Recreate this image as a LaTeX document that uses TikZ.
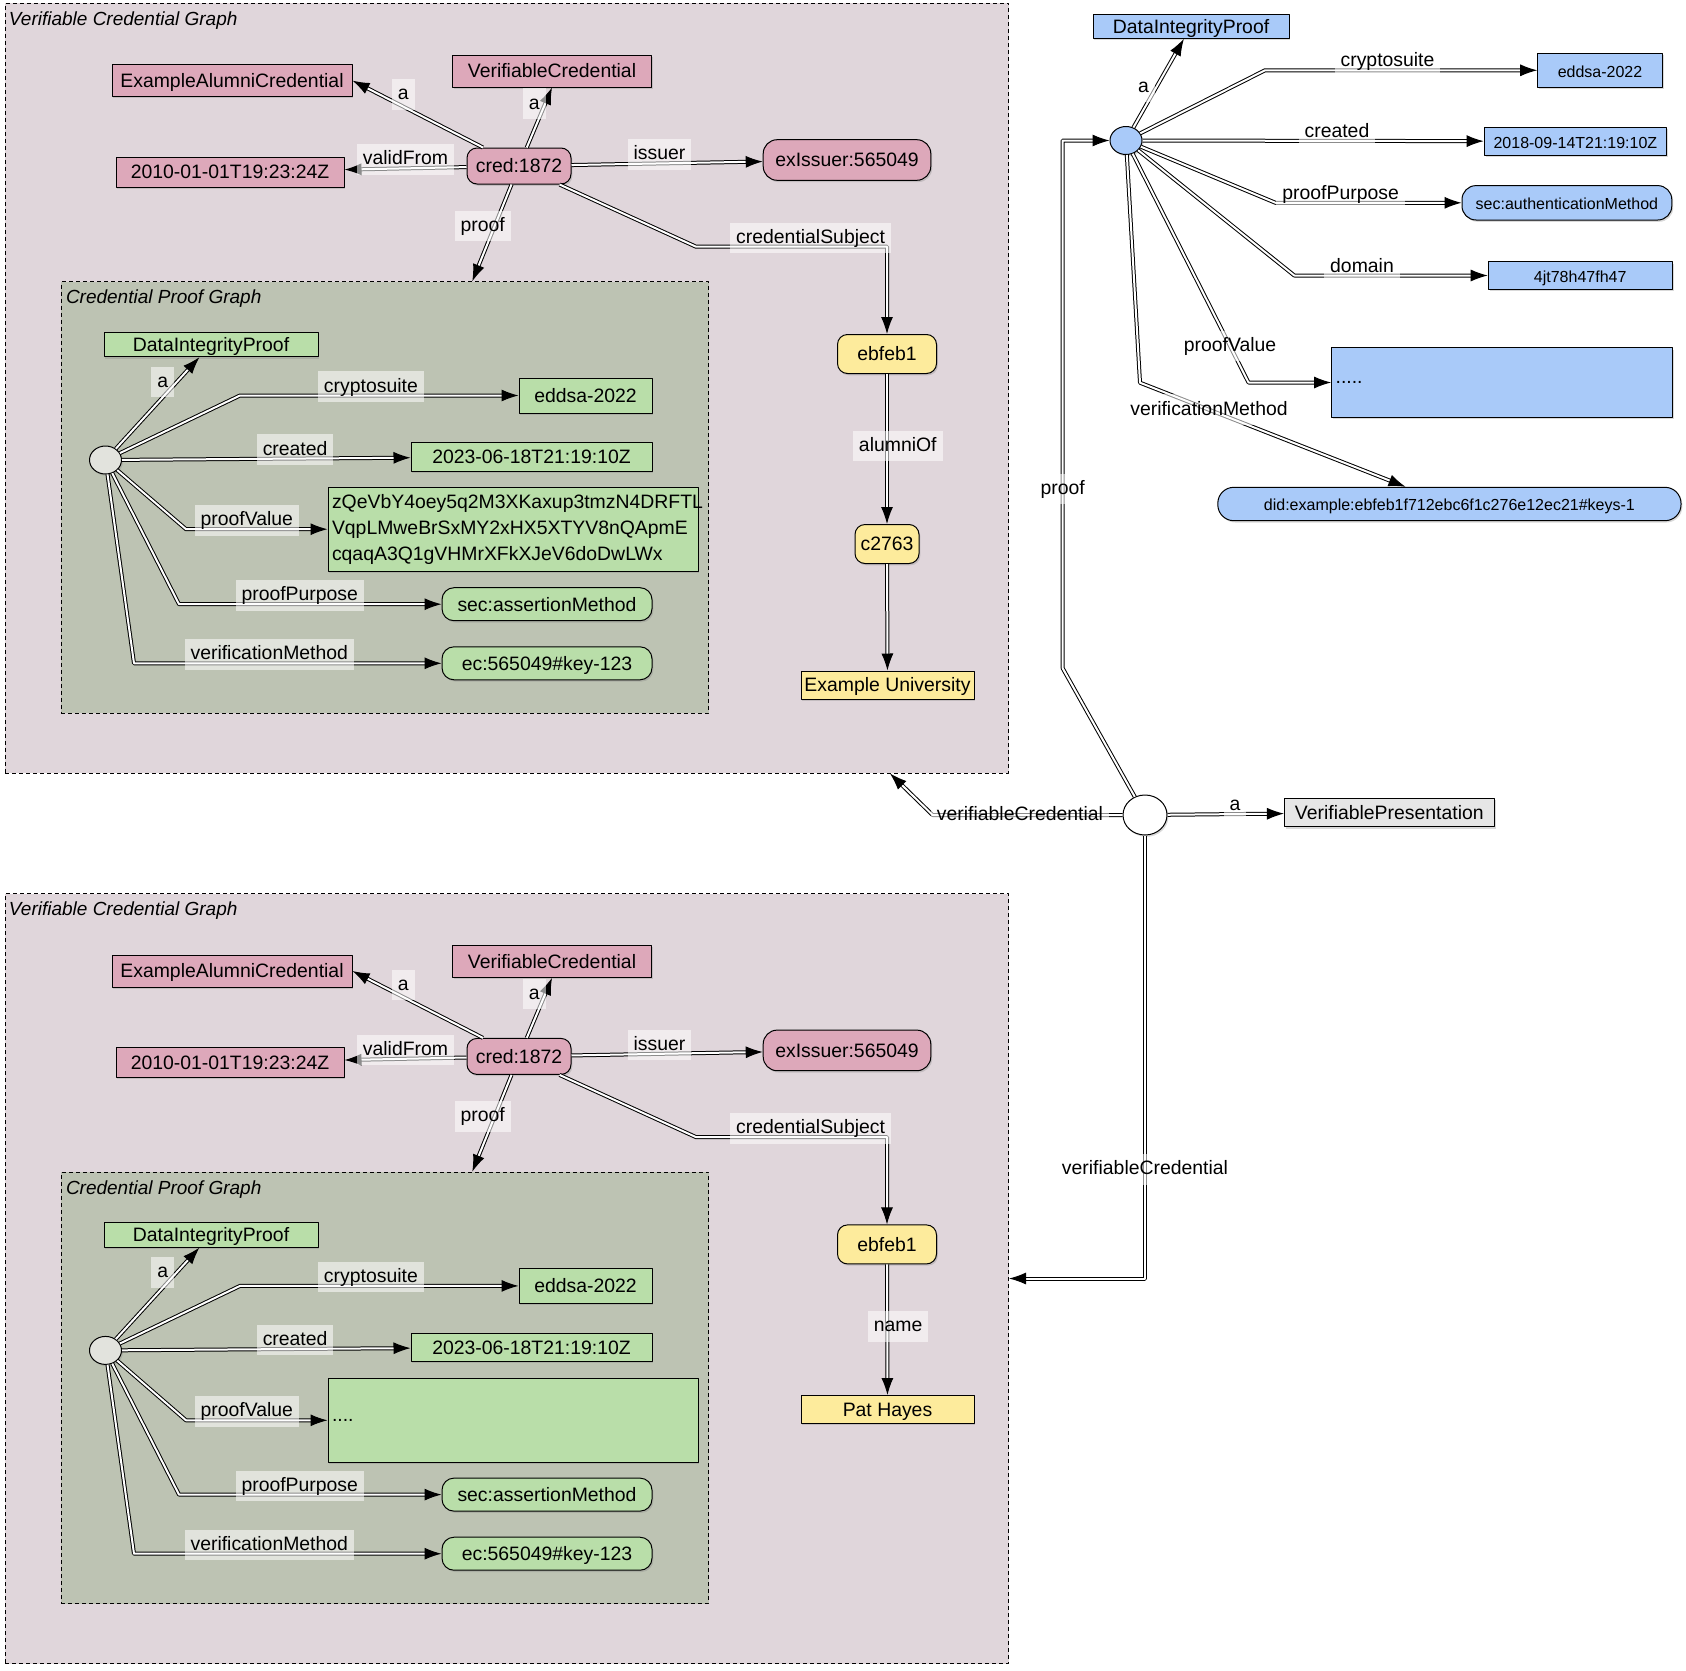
\documentclass[tikz,border=0pt]{standalone}
\usepackage{fontspec}
\setmainfont{Liberation Sans}
\usetikzlibrary{arrows.meta}
\usetikzlibrary{shapes, shadows}

\definecolor{vcback}{HTML}{E0D6DB}
\definecolor{cpgback}{HTML}{BDC3B3}
\definecolor{vcpink}{HTML}{DDA8BA}
\definecolor{prgreen}{HTML}{B9DEA9}
\definecolor{subyellow}{HTML}{FDEB9C}
\definecolor{vpblue}{HTML}{A9CAF9}
\definecolor{vpgray}{HTML}{E6E6E6}
\definecolor{bngray}{HTML}{E2E3DD}

\begin{document}
\begin{tikzpicture}[x=0.5pt,y=-0.5pt,>={Latex[length=8.5pt,width=6pt]},line join=bevel,
  font=\fontsize{9.7}{11.6}\selectfont,
  sz/.style 2 args={minimum width=#1pt,minimum height=#2pt},
  nd/.style={draw=black,line width=0.5pt,inner sep=0pt,
    drop shadow={shadow xshift=0.7pt,shadow yshift=-0.9pt,opacity=0.3}},
  lit/.style={nd,rectangle,text height=8.5pt,text depth=1.55pt},
  res/.style={lit,rounded corners=5pt},
  blank/.style={nd,ellipse,minimum width=16pt,minimum height=14pt},
  pink/.style={fill=vcpink}, green/.style={fill=prgreen}, yel/.style={fill=subyellow},
  blue/.style={fill=vpblue}, grey/.style={fill=vpgray},
  small/.style={font=\fontsize{8}{9.6}\selectfont},
  link/.style={->,draw=black,line width=0.5pt,double=white,double distance=1pt},
  lbl/.style={fill=white,fill opacity=0.55,text opacity=1,inner sep=3pt,text height=7.3pt,text depth=2pt},
  lblup/.style={lbl,anchor=south,yshift=-3.5pt},
  vcbox/.style={draw=black,fill=vcback,line width=0.4pt,dash pattern=on 2pt off 1.5pt,inner sep=0pt},
  cpgbox/.style={vcbox,fill=cpgback},
  title/.style={anchor=west,inner sep=0pt,font=\fontsize{9.5}{11}\selectfont\itshape},
]
%%
\useasboundingbox (0,0) rectangle (1686,1670);
\node (vc_1) at (507,388) [vcbox,sz={501.6}{385}] {};
\node (vct_1) at (8.6,20.5) [title] {Verifiable Credential Graph};
\node (cpg_1) at (385,497.4) [cpgbox,sz={323.7}{215.7}] {};
\node (cpgt_1) at (65.6,299) [title] {Credential Proof Graph};
\node (vc_2) at (507,1278.5) [vcbox,sz={501.6}{385}] {};
\node (vct_2) at (8.6,910.9) [title] {Verifiable Credential Graph};
\node (cpg_2) at (385,1387.8) [cpgbox,sz={323.7}{215.7}] {};
\node (cpgt_2) at (65.6,1189.4) [title] {Credential Proof Graph};
%
  \node (eac_1) at (232,80.6) [lit,pink,sz={120}{16}] {ExampleAlumniCredential};
  \node (vcr_1) at (552,71) [lit,pink,sz={99.5}{16}] {VerifiableCredential};
  \node (vfrom_1) at (230,172) [lit,pink,sz={114}{15}] {2010-01-01T19:23:24Z};
  \node (cred_1) at (519,166) [res,pink,sz={52}{18}] {cred:1872};
  \node (iss_1) at (847,160) [res,pink,sz={83.8}{20.3},rounded corners=7pt] {exIssuer:565049};
  \node (subj_1) at (887,354) [res,yel,sz={49.5}{19.5}] {ebfeb1};
  \node (alum_1) at (887,544) [res,yel,sz={32}{19.5}] {c2763};
  \node (univ_1) at (887.5,685) [lit,yel,sz={86.5}{14}] {Example University};
  \node (dip_1) at (211,344.5) [lit,green,sz={107}{12.2}] {DataIntegrityProof};
  \node (bn_1) at (105.5,460) [blank,fill=bngray] {};
  \node (suite_1) at (585.5,395.5) [lit,green,sz={66.5}{17.5}] {eddsa-2022};
  \node (crt_1) at (531.5,456.8) [lit,green,sz={120.5}{14.2}] {2023-06-18T21:19:10Z};
  \node (pval_1) at (513,529.2) [nd,green,sz={185}{41.8},text width=181pt,align=left,inner xsep=2pt,
    font=\fontsize{9.7}{12.9}\selectfont] {zQeVbY4oey5q2M3XKaxup3tmzN4DRFTL\\VqpLMweBrSxMY2xHX5XTYV8nQApmE\\cqaqA3Q1gVHMrXFkXJeV6doDwLWx};
  \node (purp_1) at (547,604.2) [res,green,sz={105}{16.5},rounded corners=6pt] {sec:assertionMethod};
  \node (vm_1) at (547,663.3) [res,green,sz={105}{16.5},rounded corners=6pt] {ec:565049\#key-123};
%
  \node (eac_2) at (232,971) [lit,pink,sz={120}{16}] {ExampleAlumniCredential};
  \node (vcr_2) at (552,961.4) [lit,pink,sz={99.5}{16}] {VerifiableCredential};
  \node (vfrom_2) at (230,1062.4) [lit,pink,sz={114}{15}] {2010-01-01T19:23:24Z};
  \node (cred_2) at (519,1056.4) [res,pink,sz={52}{18}] {cred:1872};
  \node (iss_2) at (847,1050.4) [res,pink,sz={83.8}{20.3},rounded corners=7pt] {exIssuer:565049};
  \node (subj_2) at (887,1244.4) [res,yel,sz={49.5}{19.5}] {ebfeb1};
  \node (pat_2) at (887.5,1409.5) [lit,yel,sz={86.5}{14}] {Pat Hayes};
  \node (dip_2) at (211,1234.9) [lit,green,sz={107}{12.2}] {DataIntegrityProof};
  \node (bn_2) at (105.5,1350.4) [blank,fill=bngray] {};
  \node (suite_2) at (585.5,1285.9) [lit,green,sz={66.5}{17.5}] {eddsa-2022};
  \node (crt_2) at (531.5,1347.2) [lit,green,sz={120.5}{14.2}] {2023-06-18T21:19:10Z};
  \node (pval_2) at (513,1420.3) [nd,green,sz={185}{42},text width=181pt,align=left,inner xsep=2pt] {....};
  \node (purp_2) at (547,1494.6) [res,green,sz={105}{16.5},rounded corners=6pt] {sec:assertionMethod};
  \node (vm_2) at (547,1553.7) [res,green,sz={105}{16.5},rounded corners=6pt] {ec:565049\#key-123};
%
  \node (dip_3) at (1191,26.3) [lit,blue,sz={98}{12}] {DataIntegrityProof};
  \node (bn_3) at (1126,140.5) [blank,blue] {};
  \node (suite_3) at (1600,70.3) [lit,blue,small,sz={62.3}{17}] {eddsa-2022};
  \node (crt_3) at (1575.4,141.3) [lit,blue,small,sz={91.3}{13.7}] {2018-09-14T21:19:10Z};
  \node (purp_3) at (1566.9,202.8) [res,blue,small,sz={104.9}{17.2},rounded corners=7pt] {sec:authenticationMethod};
  \node (dom_3) at (1580.2,275.5) [lit,blue,small,sz={92}{13.8}] {4jt78h47fh47};
  \node (pval_3) at (1502,382.5) [nd,blue,sz={170.4}{34.8},text width=166.4pt,align=left,inner xsep=2pt] {.....};
  \node (vm_3) at (1449.4,504) [res,blue,small,sz={231.6}{16.7},rounded corners=8pt] {did:example:ebfeb1f712ebc6f1c276e12ec21\#keys-1};
  \node (vp_0) at (1145,815) [nd,ellipse,fill=white,sz={22}{20}] {};
  \node (vpres_0) at (1389.3,812.5) [lit,grey,sz={104.9}{14.2}] {VerifiablePresentation};
%
  \draw [link] (cred_1) -- node[lbl,pos=0.61,yshift=6pt] {a} (eac_1.east);
  \draw [link] (cred_1) -- node[lbl,pos=0.73,xshift=-5.5pt] {a} (vcr_1.south);
  \draw [link] (cred_1) -- node[lblup] {validFrom} (vfrom_1);
  \draw [link] (cred_1) -- node[lblup,pos=0.46] {issuer} (iss_1);
  \draw [link] (cred_1) -- node[lbl,pos=0.43,xshift=-6pt] {proof} (cpg_1);
  \draw [link] (cred_1) -- (696,246.7) -| node[lblup,pos=0.3] {credentialSubject} (subj_1);
  \draw [link] (subj_1) -- node[lbl,pos=0.48,xshift=5.4pt] {alumniOf} (alum_1);
  \draw [link] (alum_1) -- (univ_1);
  \draw [link] (bn_1) -- node[lbl,pos=0.73,xshift=-7pt] {a} (dip_1);
  \draw [link] (bn_1) -- (240,0 |- suite_1) -- node[lblup,pos=0.47] {cryptosuite} (suite_1);
  \draw [link] (bn_1) -- node[lblup,pos=0.6] {created} (crt_1);
  \draw [link] (bn_1) -- (186,0 |- pval_1) -- node[lblup,pos=0.43] {proofValue} (pval_1);
  \draw [link] (bn_1) -- (179,0 |- purp_1) -- node[lblup,pos=0.46] {proofPurpose} (purp_1);
  \draw [link] (bn_1) -- (134,0 |- vm_1) -- node[lblup,pos=0.44] {verificationMethod} (vm_1);
%
  \draw [link] (cred_2) -- node[lbl,pos=0.61,yshift=6pt] {a} (eac_2.east);
  \draw [link] (cred_2) -- node[lbl,pos=0.73,xshift=-5.5pt] {a} (vcr_2.south);
  \draw [link] (cred_2) -- node[lblup] {validFrom} (vfrom_2);
  \draw [link] (cred_2) -- node[lblup,pos=0.46] {issuer} (iss_2);
  \draw [link] (cred_2) -- node[lbl,pos=0.43,xshift=-6pt] {proof} (cpg_2);
  \draw [link] (cred_2) -- (696,1137.1) -| node[lblup,pos=0.3] {credentialSubject} (subj_2);
  \draw [link] (subj_2) -- node[lbl,pos=0.475,xshift=5.4pt] {name} (pat_2);
  \draw [link] (bn_2) -- node[lbl,pos=0.73,xshift=-7pt] {a} (dip_2);
  \draw [link] (bn_2) -- (240,0 |- suite_2) -- node[lblup,pos=0.47] {cryptosuite} (suite_2);
  \draw [link] (bn_2) -- node[lblup,pos=0.6] {created} (crt_2);
  \draw [link] (bn_2) -- (186,0 |- pval_2) -- node[lblup,pos=0.43] {proofValue} (pval_2);
  \draw [link] (bn_2) -- (179,0 |- purp_2) -- node[lblup,pos=0.46] {proofPurpose} (purp_2);
  \draw [link] (bn_2) -- (134,0 |- vm_2) -- node[lblup,pos=0.44] {verificationMethod} (vm_2);
%
  \draw [link] (bn_3) -- node[lbl,pos=0.46,xshift=-6.5pt] {a} (dip_3);
  \draw [link] (bn_3) -- (1265,0 |- suite_3) -- node[lblup,pos=0.45] {cryptosuite} (suite_3);
  \draw [link] (bn_3) -- node[lblup,pos=0.57] {created} (crt_3);
  \draw [link] (bn_3) -- (1275.5,0 |- purp_3) -- node[lblup,pos=0.35] {proofPurpose} (purp_3);
  \draw [link] (bn_3) -- (1294.3,0 |- dom_3) -- node[lblup,pos=0.35] {domain} (dom_3);
  \draw [link] (bn_3) -- node[lbl,pos=0.84] {proofValue} (1248.5,0 |- pval_3) -- (pval_3);
  \draw [link] (bn_3) -- (1140,382.7) -- node[lbl,pos=0.26] {verificationMethod} (vm_3);
  \draw [link] (vp_0) -- node[lblup,pos=0.58] {a} (vpres_0);
  \draw [link] (vp_0) -- node[lbl,pos=0.54] {verifiableCredential} (932.6,0 |- vp_0) -- (vc_1);
  \draw [link] (vp_0) -- (1062.7,668.3) |- node[lbl,pos=0.17] {proof} (bn_3);
  \draw [link] (vp_0) |- node[lbl,pos=0.377] {verifiableCredential} (vc_2);
%
\end{tikzpicture}
\end{document}
